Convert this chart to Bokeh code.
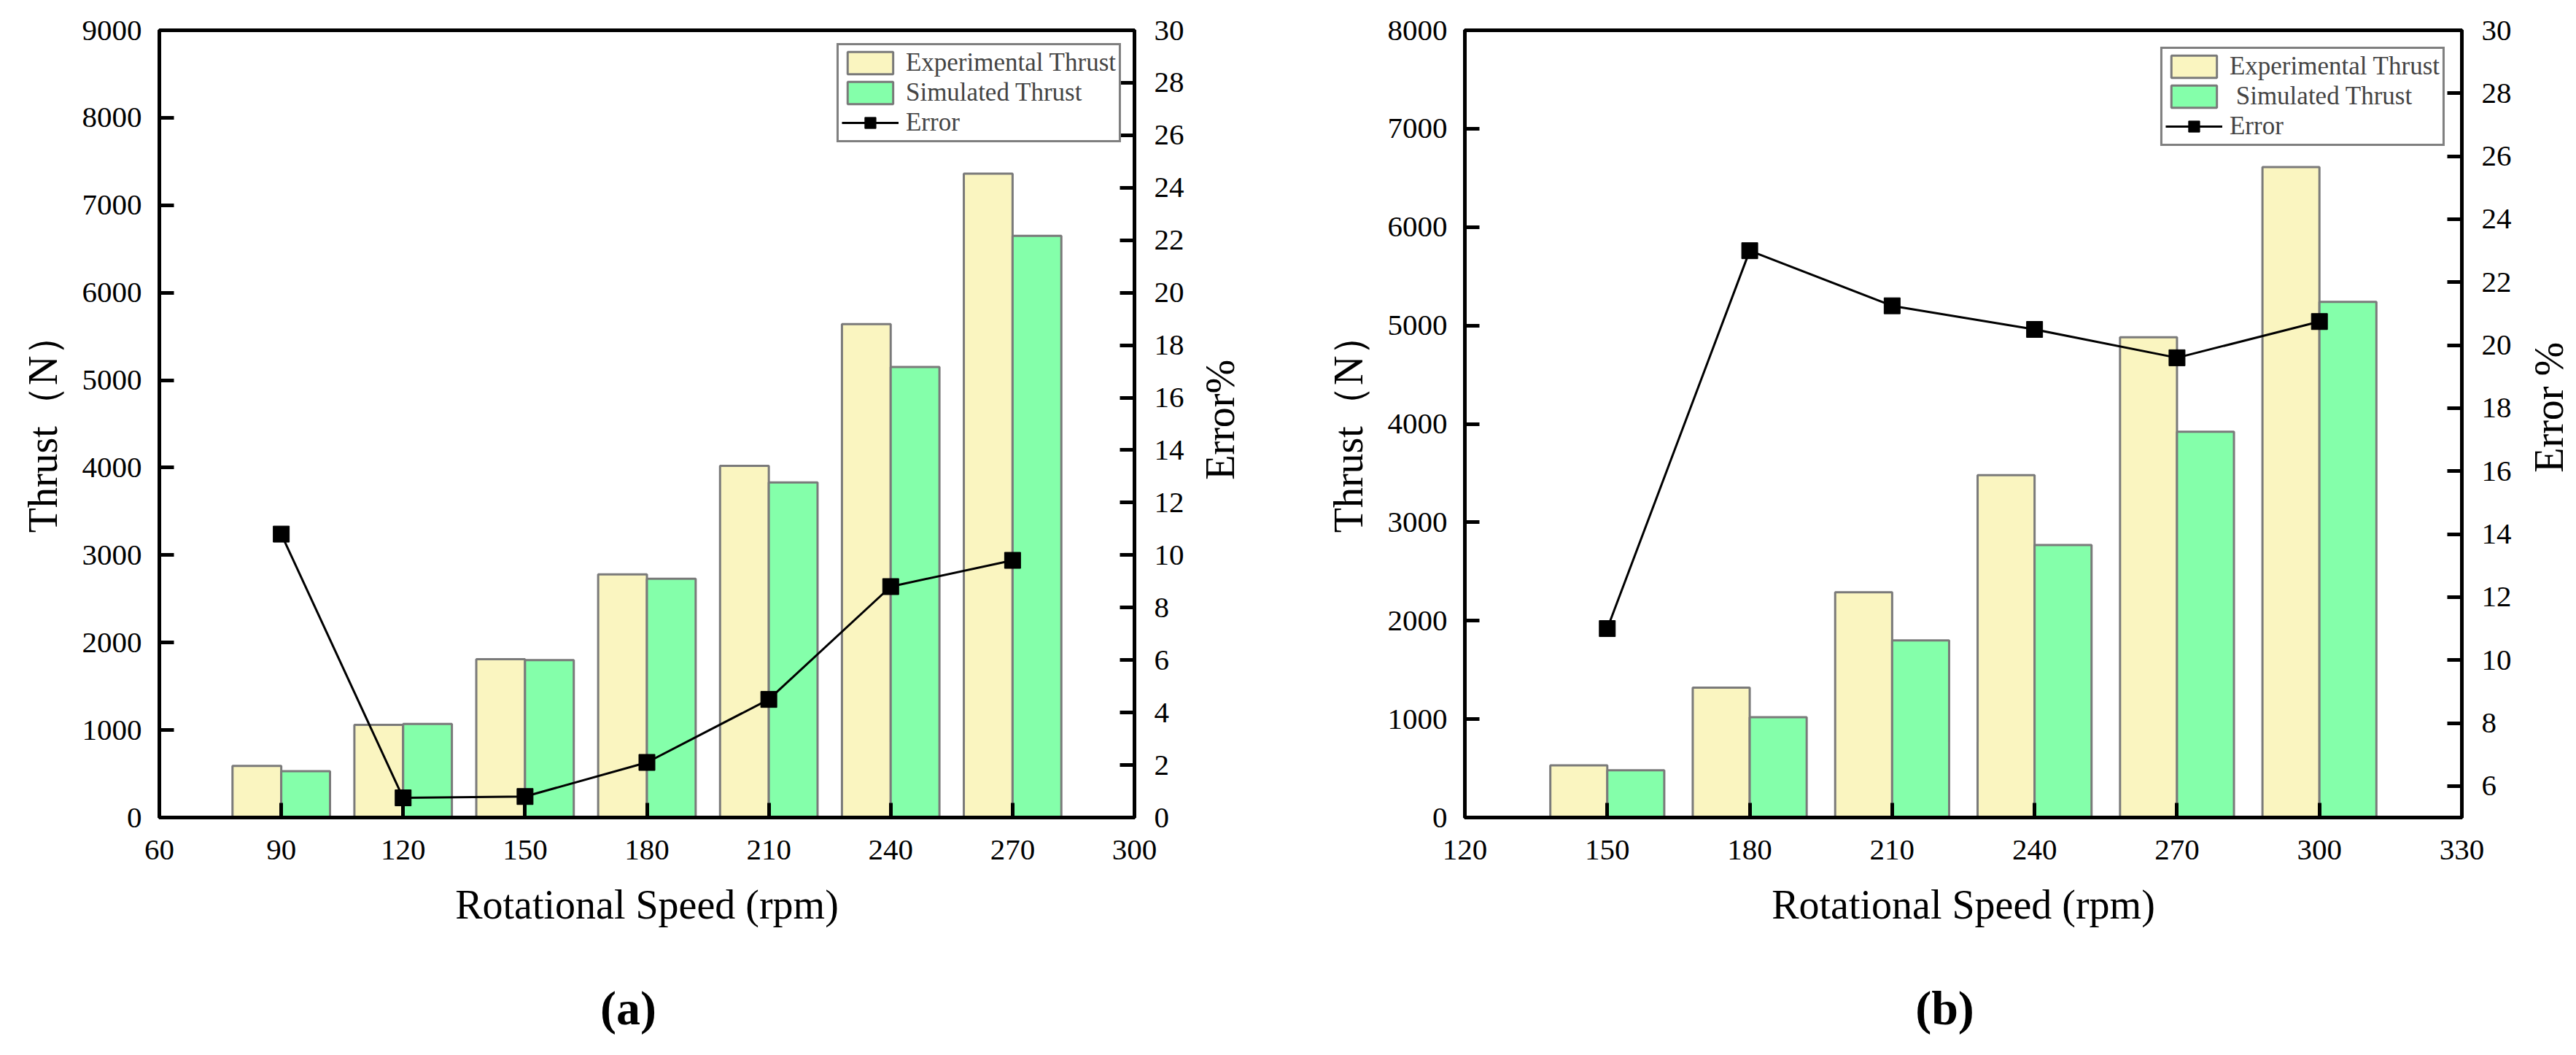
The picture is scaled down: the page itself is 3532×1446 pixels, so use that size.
import math
from bokeh.plotting import figure
from bokeh.models import (Range1d, LinearAxis, FixedTicker, ColumnDataSource,
                          Legend, LegendItem)
from bokeh.layouts import row, column
from bokeh.transform import dodge
from bokeh.core.properties import value
from bokeh.embed import file_html
from bokeh.resources import INLINE

# ---------------- data ----------------
speed_a = [90, 120, 150, 180, 210, 240, 270]
exp_a = [590, 1060, 1810, 2780, 4020, 5640, 7360]
sim_a = [530, 1070, 1800, 2730, 3830, 5150, 6650]
err_a = [10.8, 0.75, 0.8, 2.1, 4.5, 8.8, 9.8]

speed_b = [150, 180, 210, 240, 270, 300]
exp_b = [530, 1320, 2290, 3480, 4880, 6610]
sim_b = [480, 1020, 1800, 2770, 3920, 5240]
err_b = [11.0, 23.0, 21.25, 20.5, 19.6, 20.75]

xticks_a = [60, 90, 120, 150, 180, 210, 240, 270, 300]
yticks_a = [0, 1000, 2000, 3000, 4000, 5000, 6000, 7000, 8000, 9000]
rticks_a = [0, 2, 4, 6, 8, 10, 12, 14, 16, 18, 20, 22, 24, 26, 28, 30]

xticks_b = [120, 150, 180, 210, 240, 270, 300, 330]
yticks_b = [0, 1000, 2000, 3000, 4000, 5000, 6000, 7000, 8000]
rticks_b = [6, 8, 10, 12, 14, 16, 18, 20, 22, 24, 26, 28, 30]

labels_a = ["Experimental Thrust", "Simulated Thrust", "Error"]
labels_b = ["Experimental Thrust", " Simulated Thrust", "Error"]

EXP_COLOR = "#FAF5C0"
SIM_COLOR = "#84FFAA"
FONT = "Liberation Serif"
TOP_H = 1330
TAG_H = 108


def style_axis(ax, ticks, standoff):
    ax.ticker = FixedTicker(ticks=ticks)
    ax.axis_line_width = 5
    ax.axis_line_color = "black"
    ax.major_tick_in = 20
    ax.major_tick_out = 0
    ax.major_tick_line_width = 5
    ax.minor_tick_line_color = None
    ax.major_label_text_font = FONT
    ax.major_label_text_font_size = "41px"
    ax.major_label_text_color = "black"
    ax.axis_label_text_font = FONT
    ax.axis_label_text_font_size = "56px"
    ax.axis_label_text_font_style = "normal"
    ax.axis_label_text_color = "black"
    ax.major_label_standoff = standoff


def make_panel(speed, exp, sim, err, xr, yr, rr, xticks, yticks, rticks,
               labels, width, mb, legend_margin):
    p = figure(width=width, height=TOP_H, output_backend="svg", toolbar_location=None,
               x_range=Range1d(*xr), y_range=Range1d(*yr),
               min_border_left=mb[0], min_border_right=mb[1],
               min_border_top=mb[2], min_border_bottom=mb[3])
    p.xgrid.visible = False
    p.ygrid.visible = False
    p.outline_line_color = "black"
    p.outline_line_width = 5
    p.background_fill_color = "white"

    p.extra_y_ranges = {"err": Range1d(*rr)}

    src = ColumnDataSource(dict(speed=speed, exp=exp, sim=sim, err=err))
    r_exp = p.vbar(x=dodge("speed", -6, range=p.x_range), top="exp", bottom=0, width=12,
                   source=src, fill_color=EXP_COLOR, line_color="#7a7a7a", line_width=3)
    r_sim = p.vbar(x=dodge("speed", 6, range=p.x_range), top="sim", bottom=0, width=12,
                   source=src, fill_color=SIM_COLOR, line_color="#7a7a7a", line_width=3)
    r_line = p.line(x="speed", y="err", source=src, y_range_name="err",
                    line_color="black", line_width=3)
    r_pts = p.scatter(x="speed", y="err", source=src, y_range_name="err",
                      marker="square", size=22, fill_color="black", line_color="black")

    xa = p.xaxis[0]
    style_axis(xa, xticks, 31)
    xa.axis_label = "Rotational Speed (rpm)"
    xa.axis_label_standoff = 28
    ya = p.yaxis[0]
    style_axis(ya, yticks, 24)
    ya.axis_label = "Thrust（N）"
    ya.axis_label_standoff = 20

    ra = LinearAxis(y_range_name="err")
    style_axis(ra, rticks, 27)
    p.add_layout(ra, "right")

    legend = Legend(items=[LegendItem(label=labels[0], renderers=[r_exp]),
                           LegendItem(label=labels[1], renderers=[r_sim]),
                           LegendItem(label=labels[2], renderers=[r_line, r_pts])],
                    location="top_right")
    legend.label_text_font = FONT
    legend.label_text_font_size = "35px"
    legend.glyph_width = 78
    legend.glyph_height = 38
    legend.label_height = 38
    legend.label_standoff = 10
    legend.spacing = 1
    legend.padding = 4
    legend.margin = legend_margin
    legend.border_line_color = "black"
    legend.border_line_width = 3
    legend.background_fill_alpha = 1.0
    p.add_layout(legend, "center")
    return p


def text_strip(width, height, txt, cx, cy, size, angle=0.0, bold=False):
    """A bare strip holding one caption (axis title / panel tag)."""
    f = figure(width=width, height=height, output_backend="svg", toolbar_location=None,
               x_range=Range1d(0, width), y_range=Range1d(0, height),
               x_axis_type=None, y_axis_type=None,
               min_border_left=0, min_border_right=0, min_border_top=0, min_border_bottom=0)
    f.outline_line_color = None
    f.xgrid.visible = False
    f.ygrid.visible = False
    f.text(x=[cx], y=[cy], text=[txt], angle=angle, text_align="center",
           text_baseline="middle", text_font=value(FONT), text_font_size=size,
           text_font_style="bold" if bold else "normal", text_color="black")
    return f


WA, WLA, WB, WLB = 1632, 80, 1750, 64

pa = make_panel(speed_a, exp_a, sim_a, err_a, (60, 300), (0, 9000), (0, 30),
                xticks_a, yticks_a, rticks_a, labels_a,
                WA, (218, WA - 218 - 1337, 41, TOP_H - 41 - 1079), 18)
pb = make_panel(speed_b, exp_b, sim_b, err_b, (120, 330), (0, 8000), (5, 30),
                xticks_b, yticks_b, rticks_b, labels_b,
                WB, (296, WB - 296 - 1367, 28, TOP_H - 28 - 1101), 23)

la = text_strip(WLA, TOP_H, "Error%", WLA / 2, TOP_H - 658, "56px", angle=math.pi / 2)
lb = text_strip(WLB, TOP_H, "Error %", WLB / 2, TOP_H - 637, "56px", angle=math.pi / 2)

ta = text_strip(WA + WLA, TAG_H, "(a)", 861, 57, "66px", bold=True)
tb = text_strip(WB + WLB, TAG_H, "(b)", 954, 57, "66px", bold=True)

layout = column(row(pa, la, pb, lb), row(ta, tb))
open("out.html", "w").write(file_html(layout, INLINE))
